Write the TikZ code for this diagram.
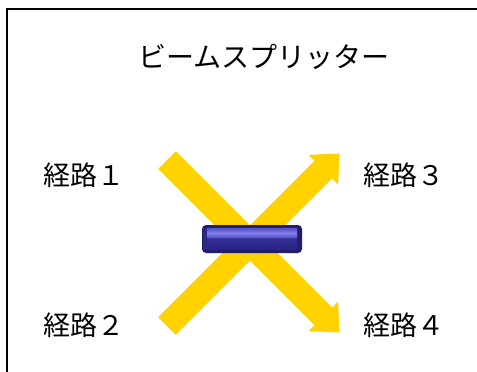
\documentclass[tikz,border=0pt]{standalone}
\usepackage{fontspec}
\newfontfamily\jpfont{Noto Sans CJK JP}
\definecolor{beam}{RGB}{255,210,0}
\definecolor{bsdark}{RGB}{34,30,110}
\definecolor{bsedge}{RGB}{52,48,150}
\definecolor{bstop}{RGB}{90,86,200}
\definecolor{bshigh}{RGB}{130,128,235}
\definecolor{bsbottom}{RGB}{40,36,130}
\begin{document}
\begin{tikzpicture}[x=1pt,y=-1pt,
  label/.style={font=\jpfont\fontsize{27}{30}\selectfont, inner sep=0pt, text=black},
  beamarrow/.style={fill=beam, draw=none}]
\useasboundingbox (0,0) rectangle (477,372);
\clip (0,0) rectangle (477,372);
\fill[white] (0,0) rectangle (477,372);
% outer frame: only its left and top sides fall inside the page
\draw[line width=2pt] (7,400) -- (7,9) -- (500,9);

% beam from upper left to lower right
\begin{scope}[shift={(167,160)}, rotate=-45]
  \fill[beamarrow] (0,-12.5) -- (221,-12.5) -- (221,-21) -- (244,0)
    -- (221,21) -- (221,12.5) -- (0,12.5) -- cycle;
\end{scope}
% beam from lower left to upper right
\begin{scope}[shift={(167,326)}, rotate=45]
  \fill[beamarrow] (0,-12.5) -- (221,-12.5) -- (221,-21) -- (244,0)
    -- (221,21) -- (221,12.5) -- (0,12.5) -- cycle;
\end{scope}

% beam splitter plate with bevelled face
\fill[bsdark, rounded corners=4pt] (202,225) rectangle (302,253);
\shade[top color=bstop, bottom color=bsbottom, middle color=bsedge]
  (207,228) rectangle (297,249);
\shade[top color=bstop, bottom color=bstop, middle color=bshigh]
  (207,229) rectangle (297,237);
\fill[bsedge, opacity=0.6] (202.5,228) -- (207,228) -- (207,249) -- (202.5,249) -- cycle;

% texts
\node[label, font=\jpfont\fontsize{28}{30}\selectfont] (title) at (264,57) {ビームスプリッター};
\node[label] (p1) at (84,175) {経路１};
\node[label] (p2) at (84,325) {経路２};
\node[label] (p3) at (404,175) {経路３};
\node[label] (p4) at (404,325) {経路４};
\end{tikzpicture}
\end{document}
